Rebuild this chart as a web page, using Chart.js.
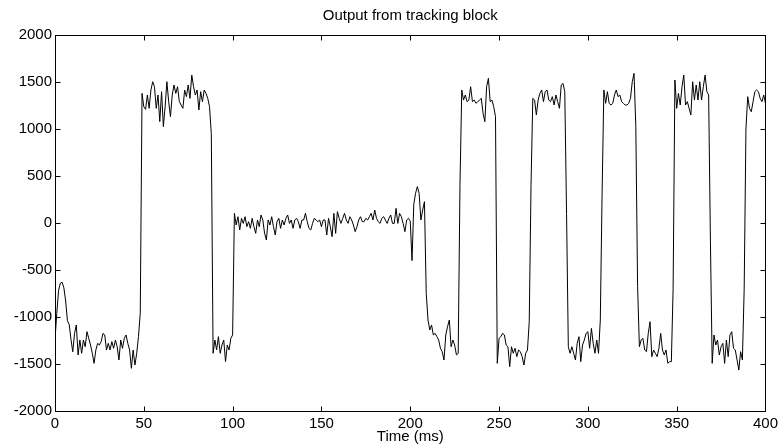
<!DOCTYPE html>
<html>
<head>
<meta charset="utf-8">
<script src="https://cdn.jsdelivr.net/npm/chart.js@4.4.1/dist/chart.umd.min.js"></script>
<style>
  html, body { margin: 0; padding: 0; background: #fff; }
  canvas { display: block; }
</style>
</head>
<body>
<canvas id="trackingChart" width="782" height="446"></canvas>
<script>
const chartTitle = 'Output from tracking block';
const xAxisLabel = 'Time (ms)';
const sampleStartMs = 0;
const sampleStepMs = 1;
const xTickValues = [0, 50, 100, 150, 200, 250, 300, 350, 400];
const yTickValues = [-2000, -1500, -1000, -500, 0, 500, 1000, 1500, 2000];

// one value per ms
const trackingOutput = [
  -1240, -960, -720, -640, -630, -690, -830, -1040, -1080, -1240,
  -1370, -1174, -1085, -1404, -1245, -1386, -1245, -1316, -1156, -1227,
  -1298, -1386, -1493, -1351, -1280, -1298, -1262, -1174, -1191, -1351,
  -1280, -1351, -1262, -1333, -1245, -1316, -1457, -1245, -1333, -1227,
  -1191, -1280, -1351, -1546, -1351, -1511, -1386, -1209, -960, 1379,
  1237, 1209, 1362, 1220, 1415, 1503, 1450, 1220, 1362, 1078,
  1397, 1025, 1237, 1503, 1291, 1131, 1362, 1468, 1379, 1450,
  1291, 1255, 1220, 1415, 1344, 1468, 1326, 1574, 1450, 1362,
  1415, 1202, 1397, 1291, 1415, 1379, 1326, 1237, 950, -1386,
  -1245, -1351, -1209, -1386, -1298, -1245, -1475, -1298, -1351, -1227,
  -1191, 103, -21, 67, -74, 50, -4, 67, -39, 14,
  -57, 50, -39, -110, 32, -39, 85, 32, -110, -181,
  32, -21, 67, -39, -128, 14, 50, -57, 32, -21,
  50, 85, -4, 32, -57, 32, 50, 14, -57, 32,
  32, 103, 14, -57, -74, -4, 50, 32, 14, 32,
  -39, 32, 32, -128, 50, -39, -145, 103, -110, 121,
  50, -4, 50, 103, 32, -4, 67, 32, -21, -92,
  -39, 32, 67, 14, 14, 50, 32, 67, 103, 32,
  138, 50, 14, -4, 50, 67, 32, -4, 50, 85,
  -4, -4, 156, -4, 103, 67, -4, -92, 32, 50,
  20, -400, 200, 316, 387, 316, 32, 138, 227, -748,
  -1032, -1138, -1085, -1191, -1174, -1209, -1245, -1333, -1369, -1457,
  -1191, -1103, -1032, -1316, -1245, -1298, -1404, -1386, 400, 1415,
  1308, 1362, 1291, 1308, 1450, 1291, 1308, 1273, 1291, 1308,
  1326, 1167, 1078, 1450, 1539, 1291, 1308, 1237, 1131, -1493,
  -1227, -1209, -1174, -1191, -1298, -1316, -1528, -1316, -1386, -1333,
  -1422, -1351, -1369, -1422, -1511, -1386, -1351, -1050, 400, 1326,
  1308, 1149, 1308, 1379, 1415, 1291, 1397, 1415, 1308, 1291,
  1344, 1255, 1362, 1291, 1220, 1468, 1486, 1397, 100, -1316,
  -1386, -1316, -1386, -1457, -1280, -1209, -1475, -1298, -1245, -1174,
  -1156, -1333, -1121, -1280, -1386, -1245, -1386, -1032, 300, 1415,
  1273, 1397, 1273, 1255, 1273, 1362, 1415, 1344, 1362, 1291,
  1273, 1255, 1255, 1273, 1326, 1503, 1592, 1025, -677, -1316,
  -1245, -1227, -1351, -1369, -1174, -1050, -1422, -1351, -1386, -1422,
  -1333, -1174, -1351, -1404, -1351, -1493, -1475, -1475, -700, 1521,
  1220, 1379, 1255, 1450, 1574, 1255, 1291, 1220, 1149, 1503,
  1308, 1468, 1308, 1503, 1308, 1450, 1574, 1397, 1362, -200,
  -1493, -1191, -1298, -1245, -1404, -1316, -1280, -1493, -1245, -1422,
  -1191, -1156, -1333, -1351, -1457, -1564, -1369, -1457, -700, 1000,
  1344, 1220, 1184, 1291, 1397, 1415, 1397, 1326, 1291, 1362,
  1273
];

const points = trackingOutput.map((v, i) => ({ x: sampleStartMs + i * sampleStepMs, y: v }));

// box round the plot with inward ticks on all four sides
const boxTicks = {
  id: 'boxTicks',
  afterDraw(chart) {
    const ctx = chart.ctx;
    const a = chart.chartArea;
    const xs = chart.scales.x;
    const ys = chart.scales.y;
    const len = 5;
    const L = Math.round(a.left) + 0.5, R = Math.round(a.right) + 0.5;
    const T = Math.round(a.top) + 0.5, B = Math.round(a.bottom) + 0.5;
    ctx.save();
    ctx.strokeStyle = '#000';
    ctx.lineWidth = 1;
    ctx.beginPath();
    xTickValues.forEach(v => {
      const px = Math.round(xs.getPixelForValue(v)) + 0.5;
      ctx.moveTo(px, B); ctx.lineTo(px, B - len);
      ctx.moveTo(px, T); ctx.lineTo(px, T + len);
    });
    yTickValues.forEach(v => {
      const py = Math.round(ys.getPixelForValue(v)) + 0.5;
      ctx.moveTo(L, py); ctx.lineTo(L + len, py);
      ctx.moveTo(R, py); ctx.lineTo(R - len, py);
    });
    ctx.moveTo(L, T); ctx.lineTo(R, T); ctx.lineTo(R, B); ctx.lineTo(L, B); ctx.closePath();
    ctx.stroke();
    ctx.restore();
  }
};

Chart.defaults.font.family = "'Liberation Sans', Arial, Helvetica, sans-serif";
Chart.defaults.font.size = 15;
Chart.defaults.color = '#000';

new Chart(document.getElementById('trackingChart'), {
  type: 'line',
  data: {
    datasets: [{
      data: points,
      borderColor: '#000',
      borderWidth: 1,
      pointRadius: 0,
      tension: 0,
      fill: false
    }]
  },
  options: {
    responsive: false,
    animation: false,
    devicePixelRatio: 1,
    layout: { padding: { left: 0, right: 10, top: 0, bottom: 0 } },
    plugins: {
      legend: { display: false },
      tooltip: { enabled: false },
      title: {
        display: true,
        text: chartTitle,
        fullSize: false,
        font: { size: 15, weight: 'normal' },
        padding: { top: 7, bottom: 10 }
      }
    },
    scales: {
      x: {
        type: 'linear',
        min: 0,
        max: 400,
        grid: { display: false, drawTicks: false },
        border: { display: false },
        afterBuildTicks: s => { s.ticks = xTickValues.map(v => ({ value: v })); },
        afterFit: s => { s.height = 35; },
        ticks: { padding: 4, maxRotation: 0, callback: v => String(v) },
        title: { display: true, text: xAxisLabel, padding: { top: 0, bottom: 0 } }
      },
      y: {
        type: 'linear',
        min: -2000,
        max: 2000,
        grid: { display: false, drawTicks: false },
        border: { display: false },
        afterBuildTicks: s => { s.ticks = yTickValues.map(v => ({ value: v })); },
        afterFit: s => { s.width = 55; },
        ticks: { padding: 3, callback: v => String(v) }
      }
    }
  },
  plugins: [boxTicks]
});
</script>
</body>
</html>
